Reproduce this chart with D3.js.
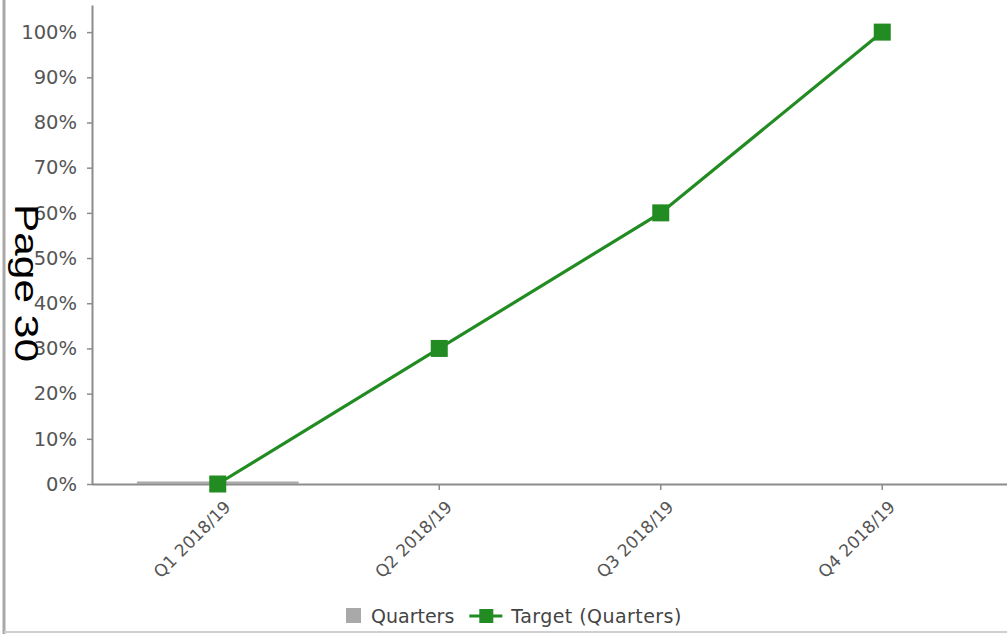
<!DOCTYPE html>
<html>
<head>
<meta charset="utf-8">
<script src="https://cdn.jsdelivr.net/npm/d3@7"></script>
<style>
  html, body { margin: 0; padding: 0; background: #fff; }
  svg { display: block; }
  .tick text { font-family: "DejaVu Sans", sans-serif; fill: #555; }
</style>
</head>
<body>
<svg id="chart" width="1007" height="634"></svg>
<script>
// Quarter categories and series values (fractions of the annual target)
const quarters = ["Q1 2018/19", "Q2 2018/19", "Q3 2018/19", "Q4 2018/19"];
const actualValues = [0, null, null, null];      // "Quarters" bars – only Q1 reported
const targetValues = [0, 0.30, 0.60, 1.00];      // "Target (Quarters)" line
const yTickValues = [0, 0.1, 0.2, 0.3, 0.4, 0.5, 0.6, 0.7, 0.8, 0.9, 1.0];
const seriesNames = ["Quarters", "Target (Quarters)"];

const W = 1007, H = 634;
const barColor = "#a9a9a9";
const lineColor = "#228b22";
const axisColor = "#8c8c8c";

const svg = d3.select("#chart");

// Frame: left edge and bottom rule
svg.append("line").attr("x1", 4).attr("x2", 4).attr("y1", 0).attr("y2", H)
  .attr("stroke", "#a8a8a8").attr("stroke-width", 3);
svg.append("line").attr("x1", 4).attr("x2", W).attr("y1", 632).attr("y2", 632)
  .attr("stroke", "#cfcfcf").attr("stroke-width", 2);

const plot = { left: 92, right: W, top: 5, bottom: 484 };

const x = d3.scaleBand()
  .domain(quarters)
  .range([107, 993])
  .paddingInner(0.27)
  .paddingOuter(0.135);

const y = d3.scaleLinear()
  .domain([0, 1.06])
  .range([plot.bottom, plot.top]);

// Y axis
const yAxis = svg.append("g")
  .attr("transform", `translate(${plot.left},0)`)
  .call(d3.axisLeft(y).tickValues(yTickValues).tickFormat(d3.format(".0%"))
    .tickSize(5).tickPadding(10).tickSizeOuter(0));
yAxis.select(".domain").attr("stroke", axisColor).attr("stroke-width", 2);
yAxis.selectAll(".tick line").attr("stroke", axisColor).attr("stroke-width", 1.5);
yAxis.selectAll(".tick text").attr("font-size", 19.5);

// X axis
const xAxis = svg.append("g")
  .attr("transform", `translate(0,${plot.bottom})`)
  .call(d3.axisBottom(x).tickSize(6).tickSizeOuter(0));
xAxis.select(".domain").attr("d", `M${plot.left},0.5H${plot.right}`)
  .attr("stroke", axisColor).attr("stroke-width", 2);
xAxis.selectAll(".tick line").attr("stroke", axisColor).attr("stroke-width", 1.5);
xAxis.selectAll(".tick text")
  .attr("font-size", 17)
  .attr("x", 0).attr("y", 0).attr("dy", 0)
  .attr("text-anchor", "end")
  .attr("transform", "translate(14,24) rotate(-45)");

// Bars (zero-height values still show as a thin rule)
const barData = quarters.map((q, i) => ({ q, v: actualValues[i] })).filter(d => d.v !== null);
svg.append("g").selectAll("rect")
  .data(barData)
  .join("rect")
  .attr("x", d => x(d.q))
  .attr("width", x.bandwidth())
  .attr("y", d => Math.min(y(d.v), y(0) - 2.5))
  .attr("height", d => Math.max(y(0) - y(d.v), 2.5))
  .attr("fill", barColor);

// Target line with square markers
const pts = quarters.map((q, i) => ({ q, v: targetValues[i] }));
const cx = d => x(d.q) + x.bandwidth() / 2;
svg.append("path")
  .datum(pts)
  .attr("fill", "none")
  .attr("stroke", lineColor)
  .attr("stroke-width", 3.2)
  .attr("d", d3.line().x(cx).y(d => y(d.v)));
const ms = 17;
svg.append("g").selectAll("rect")
  .data(pts)
  .join("rect")
  .attr("x", d => cx(d) - ms / 2)
  .attr("y", d => y(d.v) - ms / 2)
  .attr("width", ms).attr("height", ms)
  .attr("fill", lineColor);

// Legend
const legend = svg.append("g").attr("transform", "translate(346,616)")
  .attr("font-family", "DejaVu Sans, sans-serif").attr("font-size", 19).attr("fill", "#444");
legend.append("rect").attr("x", 0).attr("y", -8).attr("width", 15).attr("height", 15).attr("fill", barColor);
const t1 = legend.append("text").attr("x", 25).attr("y", 7).text(seriesNames[0]);
const off = 25 + t1.node().getComputedTextLength() + 15;
legend.append("line").attr("x1", off).attr("x2", off + 33).attr("y1", 0).attr("y2", 0)
  .attr("stroke", lineColor).attr("stroke-width", 3);
legend.append("rect").attr("x", off + 10).attr("y", -7).attr("width", 14).attr("height", 14).attr("fill", lineColor);
legend.append("text").attr("x", off + 42).attr("y", 7)
  .attr("textLength", 170).attr("lengthAdjust", "spacing")
  .text(seriesNames[1]);

// Page marker running down the left edge
svg.append("text")
  .attr("transform", "translate(15,204) rotate(90)")
  .attr("font-family", "Liberation Sans, Arial, sans-serif")
  .attr("font-size", 34)
  .attr("textLength", 158)
  .attr("lengthAdjust", "spacingAndGlyphs")
  .attr("fill", "#000")
  .text("Page 30");
</script>
</body>
</html>
